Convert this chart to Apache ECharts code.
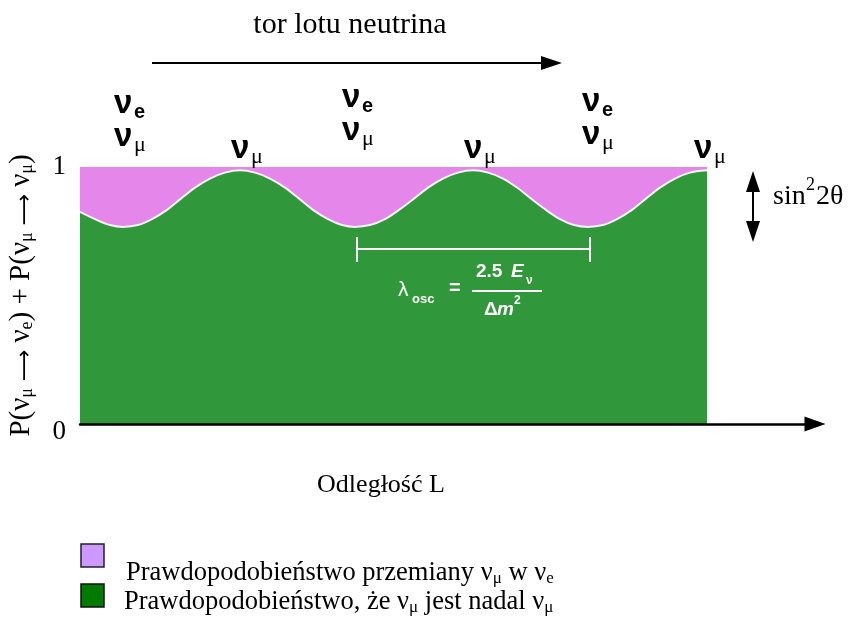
<!DOCTYPE html>
<html>
<head>
<meta charset="utf-8">
<script src="https://cdn.jsdelivr.net/npm/echarts@6/dist/echarts.min.js"></script>
<style>html,body{margin:0;padding:0;background:#fff}#c{width:856px;height:626px}</style>
</head>
<body>
<div id="c"></div>
<script>
// Distance L (arbitrary units) and survival probability P(numu -> numu)
const distance = [0, 1.5, 3.0, 4.3, 5.8, 7.2, 8.7, 10.1, 11.5, 13.0, 14.5, 16.0, 17.5, 19.0, 20.5, 21.9, 23.3, 24.8, 26.2, 27.5, 29.0, 30.5, 31.9, 33.4, 34.8, 36.3, 37.8, 39.3, 40.8, 42.3, 43.7, 45.1, 46.6, 48.0, 49.4, 50.8, 52.3, 53.7, 55.2, 56.6, 58.0, 59.5, 61.0, 62.7];
const pSurvive = [0.825, 0.797, 0.774, 0.767, 0.774, 0.797, 0.833, 0.877, 0.92, 0.955, 0.978, 0.987, 0.978, 0.955, 0.92, 0.877, 0.833, 0.797, 0.774, 0.767, 0.774, 0.797, 0.833, 0.877, 0.92, 0.955, 0.978, 0.987, 0.978, 0.955, 0.92, 0.877, 0.833, 0.797, 0.774, 0.767, 0.774, 0.797, 0.833, 0.877, 0.92, 0.955, 0.978, 0.987];
// total probability (sum) = 1 over the whole path
const totalRange = [0, 62.7];
const totalValue = [1, 1];
const yTickLabels = ['0', '1'];

const PINK = '#e486ea';
const GREEN = '#31973b';
const SERIF = '"Liberation Serif", "Times New Roman", serif';
const SANS = '"Liberation Sans", Arial, sans-serif';
const ARROWF = '"DejaVu Sans", sans-serif';

const chart = echarts.init(document.getElementById('c'), null, {renderer: 'canvas'});

function txt(text, x, y, font, opts) {
  return Object.assign({
    type: 'text', z: 100,
    style: Object.assign({text: text, x: x, y: y, font: font, fill: '#000',
      textAlign: 'left', textVerticalAlign: 'middle'}, (opts && opts.style) || {})
  }, opts && opts.el || {});
}
function nu(x, y, sub) {
  const subFont = sub === 'e' ? 'bold 20px ' + SANS : '22px ' + SERIF;
  return [
    txt('ν', x, y, 'bold 33px ' + SANS),
    txt(sub, x + 20, y + 8, subFont)
  ];
}
const W = {style: {fill: '#fff'}};

const graphics = [
  txt('tor lotu neutrina', 350, 25, '30px ' + SERIF, {style: {textAlign: 'center'}}),
  {type: 'line', z: 100, shape: {x1: 152, y1: 63, x2: 545, y2: 63}, style: {stroke: '#000', lineWidth: 2}},
  {type: 'polygon', z: 100, shape: {points: [[541, 56], [562, 63], [541, 70]]}, style: {fill: '#000'}},
  ...nu(114, 104, 'e'), ...nu(114, 137, 'μ'),
  ...nu(231, 149, 'μ'),
  ...nu(342, 98, 'e'), ...nu(342, 131, 'μ'),
  ...nu(464, 149, 'μ'),
  ...nu(582, 102, 'e'), ...nu(582, 135, 'μ'),
  ...nu(694, 149, 'μ'),
  // sin^2 2theta amplitude arrow
  {type: 'line', z: 100, shape: {x1: 753, y1: 188, x2: 753, y2: 226}, style: {stroke: '#000', lineWidth: 2}},
  {type: 'polygon', z: 100, shape: {points: [[753, 171], [760, 192], [746, 192]]}, style: {fill: '#000'}},
  {type: 'polygon', z: 100, shape: {points: [[753, 242], [760, 221], [746, 221]]}, style: {fill: '#000'}},
  txt('sin', 773, 197, '28px ' + SERIF),
  txt('2', 806, 185, '18px ' + SERIF),
  txt('2θ', 816, 197, '28px ' + SERIF),
  // oscillation length marker
  {type: 'line', z: 100, shape: {x1: 357, y1: 249, x2: 590, y2: 249}, style: {stroke: '#fff', lineWidth: 2}},
  {type: 'line', z: 100, shape: {x1: 357, y1: 237, x2: 357, y2: 262}, style: {stroke: '#fff', lineWidth: 2}},
  {type: 'line', z: 100, shape: {x1: 590, y1: 237, x2: 590, y2: 262}, style: {stroke: '#fff', lineWidth: 2}},
  txt('λ', 398, 290, '21px ' + SANS, W),
  txt('osc', 412, 299, 'bold 13px ' + SANS, W),
  txt('=', 449, 288, 'bold 20px ' + SANS, W),
  txt('2.5', 476, 272, 'bold 19px ' + SANS, W),
  txt('E', 511, 272, 'bold italic 19px ' + SANS, W),
  txt('ν', 526, 281, 'bold 12px ' + SANS, W),
  {type: 'line', z: 100, shape: {x1: 472, y1: 291, x2: 542, y2: 291}, style: {stroke: '#fff', lineWidth: 2}},
  txt('Δ', 484, 310, 'bold 19px ' + SANS, W),
  txt('m', 497, 310, 'bold italic 19px ' + SANS, W),
  txt('2', 514, 301, 'bold 12px ' + SANS, W),
  // x axis title
  txt('Odległość L', 381, 485, '26px ' + SERIF, {style: {textAlign: 'center'}}),
  // legend
  {type: 'rect', z: 100, shape: {x: 81, y: 544, width: 23, height: 23}, style: {fill: '#cc99ff', stroke: '#222', lineWidth: 1.5}},
  {type: 'rect', z: 100, shape: {x: 81, y: 584, width: 23, height: 23}, style: {fill: '#007a00', stroke: '#111', lineWidth: 1.5}},
  {type: 'text', z: 100, style: {x: 126, y: 572, textVerticalAlign: 'middle', textAlign: 'left',
    text: '{t|Prawdopodobieństwo przemiany ν}{s|μ}{t| w ν}{s|e}',
    rich: {t: {fontFamily: SERIF, fontSize: 26.5, lineHeight: 30, verticalAlign: 'bottom', fill: '#000'},
           s: {fontFamily: SERIF, fontSize: 17, lineHeight: 12, verticalAlign: 'bottom', fill: '#000'}}}},
  {type: 'text', z: 100, style: {x: 124, y: 601, textVerticalAlign: 'middle', textAlign: 'left',
    text: '{t|Prawdopodobieństwo, że ν}{s|μ}{t| jest nadal ν}{s|μ}',
    rich: {t: {fontFamily: SERIF, fontSize: 26.5, lineHeight: 30, verticalAlign: 'bottom', fill: '#000'},
           s: {fontFamily: SERIF, fontSize: 17, lineHeight: 12, verticalAlign: 'bottom', fill: '#000'}}}}
];

chart.setOption({
  animation: false,
  backgroundColor: '#fff',
  grid: {left: 80, right: 41, top: 167, bottom: 202, outerBoundsMode: 'none', containLabel: false},
  xAxis: {
    type: 'value', min: 0, max: 73.5, z: 10,
    axisLine: {show: true, lineStyle: {color: '#000', width: 2.5}, symbol: ['none', 'triangle'], symbolSize: [15, 21]},
    axisTick: {show: false}, axisLabel: {show: false}, splitLine: {show: false}
  },
  yAxis: {
    type: 'value', min: 0, max: 1, interval: 1,
    axisLine: {show: false}, axisTick: {show: false}, splitLine: {show: false},
    axisLabel: {
      margin: 14,
      formatter: function (v) { return v === 0 ? '{z|' + yTickLabels[0] + '}' : '{o|' + yTickLabels[1] + '}'; },
      rich: {
        z: {fontFamily: SERIF, fontSize: 27, color: '#000', padding: [16, 0, 0, 0]},
        o: {fontFamily: SERIF, fontSize: 27, color: '#000'}
      }
    },
    name: '{t|P(ν}{s|μ}{a| ⟶ }{t|ν}{s|e}{t|) + P(ν}{s|μ}{a| ⟶ }{t|ν}{s|μ}{t|)}',
    nameLocation: 'middle', nameRotate: 90, nameGap: 44,
    nameTextStyle: {
      rich: {
        t: {fontFamily: SERIF, fontSize: 29, lineHeight: 32, verticalAlign: 'bottom', color: '#000'},
        a: {fontFamily: ARROWF, fontSize: 22, lineHeight: 32, verticalAlign: 'bottom', color: '#000'},
        s: {fontFamily: SERIF, fontSize: 18, lineHeight: 13, verticalAlign: 'bottom', color: '#000'}
      }
    }
  },
  series: [
    {
      type: 'line', name: 'przemiana', z: 2,
      data: totalRange.map((x, i) => [x, totalValue[i]]),
      symbol: 'none', lineStyle: {width: 0}, areaStyle: {color: PINK, opacity: 1}
    },
    {
      type: 'line', name: 'nadal', z: 3, smooth: 0.3,
      data: distance.map((x, i) => [x, pSurvive[i]]),
      symbol: 'none', lineStyle: {color: '#f2f2f2', width: 2}, areaStyle: {color: GREEN, opacity: 1}
    }
  ],
  graphic: graphics
});
</script>
</body>
</html>
